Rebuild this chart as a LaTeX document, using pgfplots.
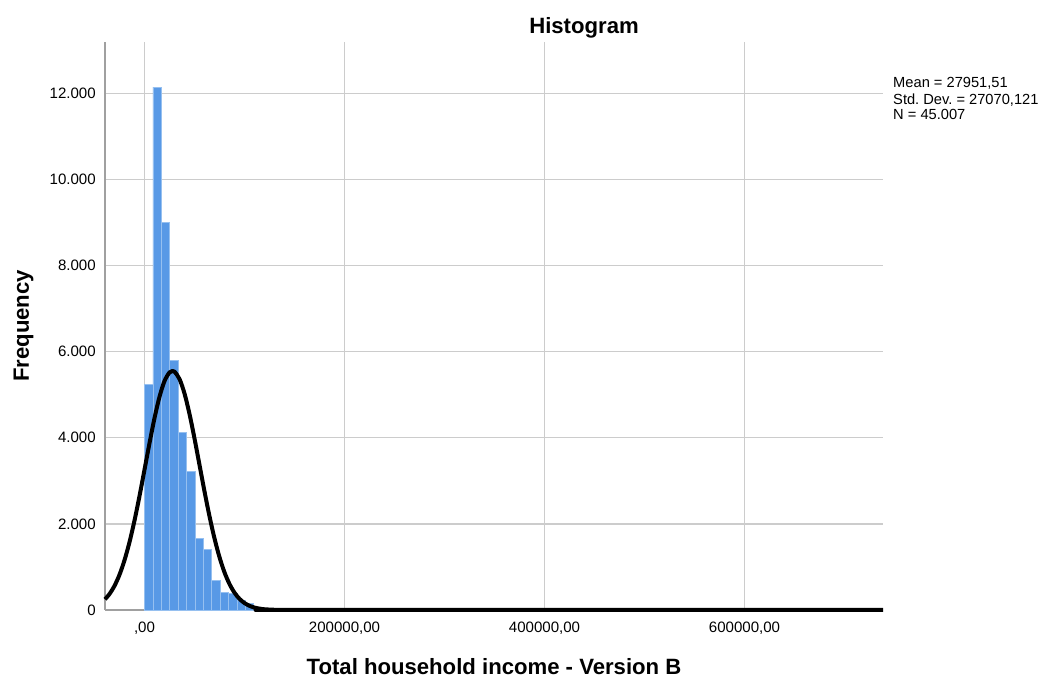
\documentclass[border=0pt]{standalone}
\usepackage{fontspec}
\setmainfont{Liberation Sans}
\usepackage{pgfplots}
\pgfplotsset{compat=1.18}
\frenchspacing

\definecolor{barblue}{RGB}{88,153,230}
\definecolor{baredge}{RGB}{150,192,240}
\definecolor{gridgray}{RGB}{204,204,204}
\definecolor{axisgray}{RGB}{160,160,160}

\begin{document}
\begin{tikzpicture}
\useasboundingbox (0,0) rectangle (782.25pt,507.75pt);
\begin{axis}[
  at={(78.75pt,50.25pt)}, anchor=south west,
  scale only axis, width=583.5pt, height=426pt,
  xmin=-39500, xmax=738500, ymin=0, ymax=13190,
  axis x line*=bottom, axis y line*=left,
  axis line style={draw=axisgray, line width=1.5pt},
  major tick length=0pt,
  xtick={0,200000,400000,600000},
  xticklabels={{,00},{200000,00},{400000,00},{600000,00}},
  ytick={0,2000,4000,6000,8000,10000,12000},
  yticklabels={0,2.000,4.000,6.000,8.000,10.000,12.000},
  scaled ticks=false,
  xmajorgrids, ymajorgrids,
  grid style={draw=gridgray, line width=1.1pt},
  xticklabel style={font=\fontsize{11.3}{13}\selectfont, anchor=base, inner sep=0pt, yshift=-17.25pt},
  yticklabel style={font=\fontsize{11.3}{13}\selectfont, anchor=east, inner sep=0pt, xshift=-6.75pt},
  title={Histogram},
  every axis title/.style={at={(axis description cs:0.6157,1.0158)}, anchor=base, font=\bfseries\fontsize{16.6}{19}\selectfont},
  xlabel={Total household income - Version B},
  every axis x label/.style={at={(axis description cs:0.5,-0.1127)}, anchor=base, font=\bfseries\fontsize{16.6}{19}\selectfont},
  ylabel={Frequency},
  every axis y label/.style={at={(axis description cs:-0.0977,0.5)}, rotate=90, anchor=base, font=\bfseries\fontsize{16.6}{19}\selectfont},
  clip=false,
]
% frequency bars, bin width 8400
\addplot[ybar interval, fill=barblue, draw=baredge, line width=0.6pt] coordinates {
  (0,5240) (8400,12140) (16800,9000) (25200,5790) (33600,4120)
  (42000,3210) (50400,1660) (58800,1400) (67200,680) (75600,410)
  (84000,390) (92400,230) (100800,150) (109200,60) (117600,35)
  (126000,20) (134400,20)
};
% fitted normal curve (mean 27951.51, sd 27070.121)
\addplot[black, line width=3pt, smooth, line join=round] coordinates {
  (-39500,249) (-35000,372) (-30000,561) (-25000,819) (-20000,1156)
  (-15000,1576) (-10000,2077) (-5000,2646) (0,3257) (5000,3874)
  (10000,4455) (15000,4950) (20000,5316) (25000,5517) (27951,5550)
  (30000,5534) (35000,5365) (40000,5027) (45000,4552) (50000,3983)
  (55000,3369) (60000,2754) (65000,2176) (70000,1661) (75000,1226)
  (80000,874) (85000,603) (90000,401) (95000,258) (100000,161)
  (105000,97) (110000,56) (115000,32) (120000,17) (130000,5)
  (140000,1) (150000,0) (738500,0)
};
\node[anchor=base west, font=\fontsize{11}{13}\selectfont, inner sep=0pt] at (axis description cs:1.0128,0.9190) {Mean = 27951,51};
\node[anchor=base west, font=\fontsize{11}{13}\selectfont, inner sep=0pt] at (axis description cs:1.0128,0.8908) {Std. Dev. = 27070,121};
\node[anchor=base west, font=\fontsize{11}{13}\selectfont, inner sep=0pt] at (axis description cs:1.0128,0.8627) {N = 45.007};
\end{axis}
\end{tikzpicture}
\end{document}
